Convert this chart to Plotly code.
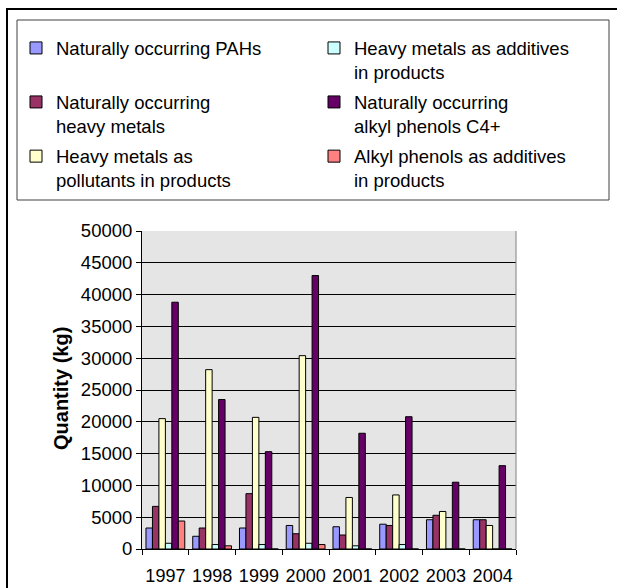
import plotly.graph_objects as go

# Annual quantities (kg) by source category
years = ["1997", "1998", "1999", "2000", "2001", "2002", "2003", "2004"]
pahs_natural = [3300, 2000, 3300, 3700, 3500, 3900, 4600, 4600]
heavy_metals_natural = [6700, 3300, 8700, 2400, 2200, 3700, 5300, 4600]
heavy_metals_pollutants = [20500, 28200, 20700, 30400, 8100, 8500, 5900, 3700]
heavy_metals_additives = [900, 700, 700, 900, 500, 700, 0, 0]
alkyl_phenols_natural = [38800, 23500, 15300, 43000, 18200, 20800, 10500, 13100]
alkyl_phenols_additives = [4400, 500, 0, 700, 0, 0, 0, 0]

series_names = [
    "Naturally occurring PAHs",
    "Naturally occurring<br>heavy metals",
    "Heavy metals as<br>pollutants in products",
    "Heavy metals as additives<br>in products",
    "Naturally occurring<br>alkyl phenols C4+",
    "Alkyl phenols as additives<br>in products",
]
series_values = [
    pahs_natural,
    heavy_metals_natural,
    heavy_metals_pollutants,
    heavy_metals_additives,
    alkyl_phenols_natural,
    alkyl_phenols_additives,
]
colors = ["#9999FF", "#993366", "#FFFFCC", "#CCFFFF", "#660066", "#FF8080"]

W, H = 617, 588
L, R, T, B = 142, 101, 231, 39
PW, PH = W - L - R, H - T - B


def px_x(x):
    return (x - L) / PW


def px_y(y):
    return (H - B - y) / PH


FONT = "Liberation Sans, Arial, sans-serif"

# each legend entry gets its own legend box so the two columns line up
legend_ids = ["legend", "legend2", "legend3", "legend4", "legend5", "legend6"]
legend_pos = [(16, 29.4), (16, 83.4), (16, 137.6), (314, 29.4), (314, 83.4), (314, 137.6)]

fig = go.Figure()
for name, vals, col, lid in zip(series_names, series_values, colors, legend_ids):
    fig.add_trace(go.Bar(
        name=name, x=years, y=vals,
        marker=dict(color=col, line=dict(color="black", width=1)),
        legend=lid,
    ))

layout_legends = {}
for lid, (lx, ly) in zip(legend_ids, legend_pos):
    layout_legends[lid] = dict(
        x=lx / W, y=1 - ly / H, xref="container", yref="container",
        xanchor="left", yanchor="top", bgcolor="rgba(0,0,0,0)", borderwidth=0,
        font=dict(family=FONT, size=18.5, color="black"), valign="top",
    )

fig.update_layout(
    width=W, height=H,
    margin=dict(l=L, r=R, t=T, b=B, autoexpand=False),
    paper_bgcolor="white", plot_bgcolor="#E5E5E5",
    font=dict(family=FONT, size=18, color="black"),
    barmode="group", bargap=0.17, bargroupgap=0,
    showlegend=True,
    **layout_legends,
    xaxis=dict(
        type="category", showline=True, linecolor="black", linewidth=1,
        ticks="outside", tickson="boundaries", ticklen=5, tickcolor="black",
        showgrid=False, tickangle=0, ticklabelstandoff=10,
        tickfont=dict(family=FONT, size=18, color="black"),
    ),
    yaxis=dict(
        range=[0, 50000], dtick=5000, tickformat="d",
        showline=True, linecolor="black", linewidth=1,
        ticks="outside", ticklen=5, tickcolor="black",
        showgrid=True, gridcolor="black", gridwidth=1, zeroline=False,
        tickfont=dict(family=FONT, size=18.5, color="black"),
    ),
    annotations=[
        dict(text="<b>Quantity (kg)</b>", textangle=-90, showarrow=False,
             xref="paper", yref="paper", x=px_x(61), y=px_y(389),
             xanchor="center", yanchor="middle",
             font=dict(family=FONT, size=20, color="black")),
    ],
    shapes=[
        # outer frame
        dict(type="rect", xref="paper", yref="paper",
             x0=px_x(7), x1=px_x(630), y0=px_y(600), y1=px_y(9),
             line=dict(color="black", width=2), fillcolor="rgba(0,0,0,0)"),
        # legend box
        dict(type="rect", xref="paper", yref="paper",
             x0=px_x(17), x1=px_x(609), y0=px_y(200), y1=px_y(20),
             line=dict(color="#404040", width=1), fillcolor="rgba(0,0,0,0)"),
        # right edge of the plot area
        dict(type="line", xref="paper", yref="paper",
             x0=1, x1=1, y0=0, y1=1, line=dict(color="#808080", width=1)),
    ],
)

fig.write_html("out.html")
